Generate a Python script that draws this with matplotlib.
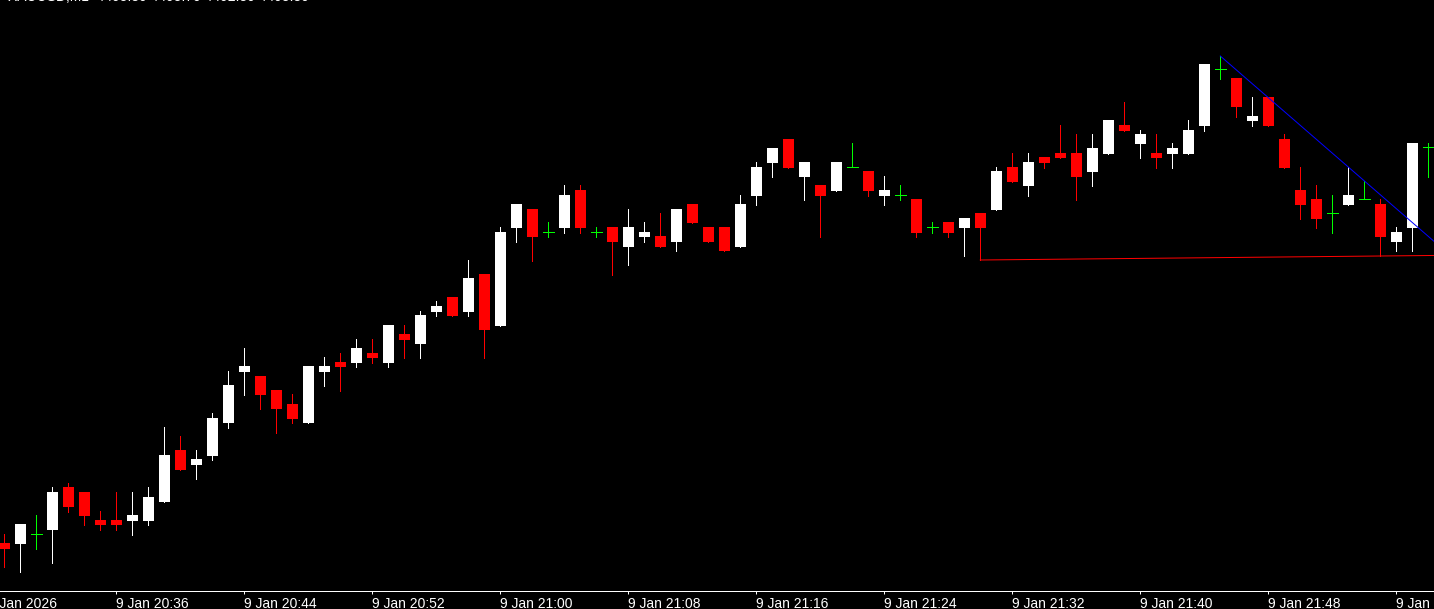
import matplotlib.pyplot as plt
from matplotlib.transforms import blended_transform_factory

# M1 candles, 9 Jan 20:29 .. 21:58
opens = [4455.7, 4455.6, 4456.6, 4457.0, 4461.3, 4460.8, 4458.0, 4458.0, 4457.9, 4457.9,
         4459.8, 4465.0, 4463.5, 4464.4, 4467.7, 4472.8, 4472.4, 4471.0, 4469.6, 4467.7,
         4472.8, 4473.8, 4473.7, 4474.7, 4473.7, 4476.6, 4475.6, 4478.8, 4480.3, 4478.8,
         4482.6, 4477.4, 4487.2, 4489.1, 4486.8, 4487.2, 4491.0, 4486.8, 4487.3, 4485.3,
         4486.3, 4486.4, 4485.8, 4489.6, 4487.3, 4487.3, 4485.3, 4490.4, 4493.7, 4496.1,
         4492.3, 4491.5, 4490.9, 4493.3, 4492.9, 4490.4, 4490.5, 4490.1, 4487.3, 4487.8,
         4487.2, 4488.7, 4489.0, 4493.3, 4491.4, 4494.3, 4494.7, 4494.7, 4492.8, 4494.6,
         4497.5, 4495.6, 4494.7, 4494.6, 4494.6, 4497.4, 4503.1, 4502.2, 4497.9, 4500.3,
         4496.1, 4491.0, 4490.1, 4488.7, 4489.5, 4490.1, 4489.6, 4485.8, 4487.2, 4495.3]
highs = [4456.6, 4457.6, 4458.5, 4461.3, 4461.7, 4460.8, 4458.9, 4460.8, 4460.8, 4461.3,
         4467.3, 4466.4, 4465.0, 4468.7, 4472.9, 4475.2, 4472.4, 4471.0, 4470.6, 4473.4,
         4474.3, 4474.7, 4476.1, 4476.1, 4477.5, 4477.5, 4478.9, 4479.9, 4480.3, 4484.0,
         4482.6, 4487.3, 4489.6, 4489.1, 4487.8, 4491.5, 4491.5, 4487.3, 4487.3, 4489.1,
         4487.8, 4488.7, 4489.1, 4489.6, 4487.3, 4487.3, 4490.5, 4493.8, 4495.2, 4496.1,
         4493.8, 4491.5, 4493.8, 4495.7, 4492.9, 4492.4, 4491.5, 4490.1, 4487.8, 4487.8,
         4488.2, 4488.7, 4493.3, 4494.7, 4494.7, 4494.3, 4497.5, 4496.6, 4496.6, 4498.0,
         4499.8, 4497.0, 4496.6, 4495.7, 4498.0, 4503.6, 4504.4, 4502.2, 4500.3, 4500.3,
         4496.6, 4493.3, 4491.5, 4490.5, 4493.3, 4491.9, 4490.1, 4487.3, 4495.7, 4495.7]
lows = [4453.3, 4452.8, 4455.1, 4453.7, 4458.8, 4457.5, 4457.0, 4457.0, 4456.5, 4457.5,
        4459.8, 4463.0, 4462.1, 4464.0, 4467.2, 4470.5, 4469.1, 4466.7, 4467.7, 4467.7,
        4471.4, 4470.9, 4473.3, 4473.7, 4473.3, 4474.2, 4474.2, 4478.4, 4478.4, 4478.4,
        4474.2, 4477.4, 4485.8, 4483.9, 4486.3, 4486.7, 4486.7, 4486.3, 4482.5, 4483.5,
        4485.8, 4485.3, 4484.9, 4487.7, 4485.8, 4484.9, 4485.3, 4489.5, 4492.3, 4493.2,
        4490.0, 4486.3, 4490.9, 4493.3, 4490.4, 4489.5, 4490.0, 4486.3, 4486.7, 4486.3,
        4484.4, 4484.0, 4489.0, 4491.8, 4490.4, 4493.2, 4494.2, 4490.0, 4491.4, 4494.6,
        4496.9, 4494.2, 4493.2, 4493.2, 4494.6, 4496.9, 4502.1, 4498.3, 4497.4, 4497.4,
        4493.2, 4488.1, 4487.2, 4486.7, 4489.5, 4490.1, 4484.4, 4484.9, 4484.9, 4492.3]
closes = [4455.1, 4457.6, 4456.6, 4460.8, 4459.3, 4458.4, 4457.5, 4457.5, 4458.5, 4460.3,
          4464.5, 4463.0, 4464.1, 4468.2, 4471.5, 4473.4, 4470.5, 4469.1, 4468.1, 4473.4,
          4473.4, 4473.3, 4475.2, 4474.2, 4477.5, 4476.0, 4478.5, 4479.4, 4478.4, 4482.2,
          4477.0, 4486.8, 4489.6, 4486.3, 4486.8, 4490.5, 4487.2, 4486.8, 4485.8, 4487.3,
          4486.8, 4485.3, 4489.1, 4487.7, 4485.8, 4484.9, 4489.6, 4493.3, 4495.2, 4493.2,
          4493.8, 4490.4, 4493.8, 4493.3, 4490.9, 4491.0, 4490.5, 4486.7, 4487.3, 4486.7,
          4488.2, 4487.2, 4492.9, 4491.8, 4493.8, 4493.7, 4494.2, 4492.3, 4495.2, 4498.0,
          4496.9, 4496.6, 4494.2, 4495.2, 4497.0, 4503.6, 4503.1, 4499.3, 4498.4, 4497.4,
          4493.2, 4489.5, 4488.1, 4488.7, 4490.5, 4490.1, 4486.3, 4486.8, 4495.7, 4495.3]

tick_labels = ['9 Jan 2026', '9 Jan 20:36', '9 Jan 20:44', '9 Jan 20:52', '9 Jan 21:00',
               '9 Jan 21:08', '9 Jan 21:16', '9 Jan 21:24', '9 Jan 21:32', '9 Jan 21:40',
               '9 Jan 21:48', '9 Jan 21:56']
first_tick = -1   # 20:28, one bar before the first visible one
tick_step = 8

# trendlines: support through two lows, resistance through two highs
support_bars = [61, 86]
resist_bars = [76, 84]

W, H = 1434, 609
fig = plt.figure(figsize=(W / 100, H / 100), dpi=100, facecolor='black')
ax = fig.add_axes([0, 18.5 / H, 1, 590.5 / H], facecolor='black')

n = len(opens)
xs = list(range(n))
bw = 0.69
px = 72 / 100  # one pixel in points

up = [i for i in xs if closes[i] > opens[i]]
dn = [i for i in xs if closes[i] < opens[i]]
dj = [i for i in xs if closes[i] == opens[i]]

for idx, col in ((up, 'white'), (dn, '#ff0000')):
    ax.vlines(idx, [lows[i] for i in idx], [highs[i] for i in idx], colors=col,
              linewidth=px, antialiased=False)
    ax.bar(idx, [abs(closes[i] - opens[i]) for i in idx], bottom=[min(opens[i], closes[i]) for i in idx],
           width=bw, color=col, linewidth=0, antialiased=False)

ax.vlines(dj, [lows[i] for i in dj], [highs[i] for i in dj], colors='#00ff00',
          linewidth=px, antialiased=False)
ax.hlines([opens[i] for i in dj], [i - bw / 2 for i in dj], [i + bw / 2 for i in dj],
          colors='#00ff00', linewidth=px, antialiased=False)

x0, x1 = -4.3 / 16, (W - 4.3) / 16
ax.set_xlim(x0, x1)
ax.set_ylim(4450.95, 4510)

# rays extended to the right edge
a, b = support_bars
k = (lows[b] - lows[a]) / (b - a)
ax.plot([a, x1], [lows[a], lows[a] + k * (x1 - a)], color='#ff0000', lw=px)
a, b = resist_bars
k = (highs[b] - highs[a]) / (b - a)
ax.plot([a, x1], [highs[a], highs[a] + k * (x1 - a)], color='#0000ff', lw=px)

for s in ['top', 'left', 'right']:
    ax.spines[s].set_visible(False)
ax.spines['bottom'].set_color('white')
ax.spines['bottom'].set_linewidth(px)
ax.set_yticks([])
tick_pos = [first_tick + tick_step * j for j in range(len(tick_labels))]
ax.set_xticks([p for p in tick_pos if p >= x0])
ax.set_xticklabels([])
ax.tick_params(axis='x', colors='white', length=3 * px, width=px, direction='out')

tr = blended_transform_factory(ax.transData, fig.transFigure)
for p, lab in zip(tick_pos, tick_labels):
    ax.text(p - 0.03, 1.5 / H, lab, transform=tr, color='white', fontsize=10,
            family='Liberation Sans', ha='left', va='baseline', clip_on=False)

# symbol header, mostly above the visible area
fig.text(8 / W, 1 - 1.4 / H, 'XAUUSD,M1  4495.30 4495.70 4492.30 4495.30', color='white',
         fontsize=10, family='Liberation Sans', ha='left', va='baseline')

fig.savefig('out.png', dpi=100, facecolor='black')
